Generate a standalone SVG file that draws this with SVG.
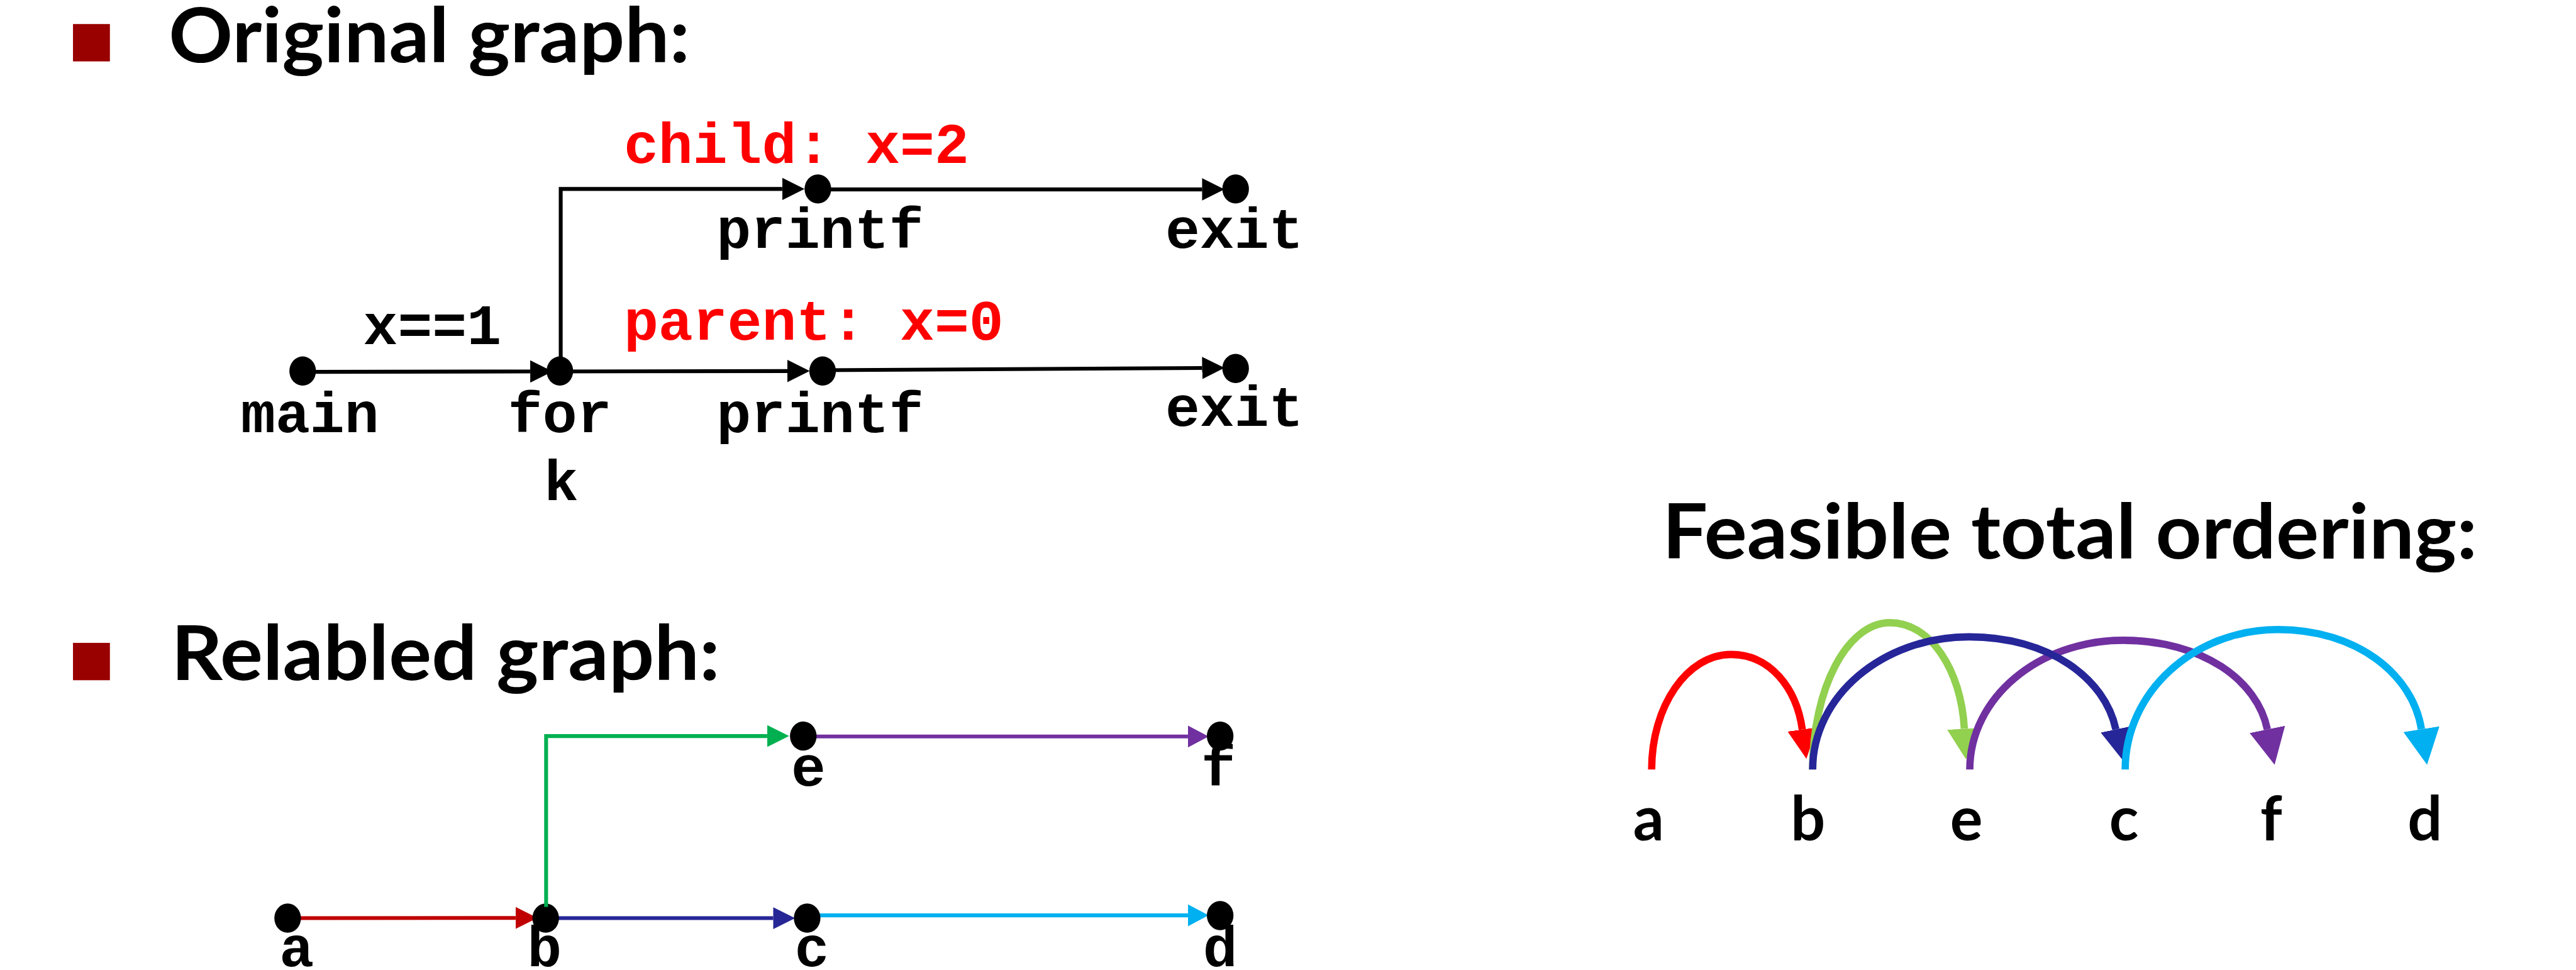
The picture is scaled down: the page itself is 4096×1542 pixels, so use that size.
<svg xmlns="http://www.w3.org/2000/svg" width="4096" height="1542" viewBox="0 0 4096 1542">
<defs>
<style>
.title{font-family:Lato,"Open Sans","Liberation Sans",sans-serif;font-weight:700;font-size:176px;fill:#000}
.mono{font-family:"Liberation Mono","DejaVu Sans Mono",monospace;font-weight:700;font-size:134px;fill:#000}
.mid{text-anchor:middle}
.hot{fill:#FF0000}
.lbl{font-family:Lato,"Open Sans","Liberation Sans",sans-serif;font-weight:700;font-size:142px;fill:#000;text-anchor:middle}
.dot{fill:#000}
.bullet{fill:#990000}
.ln{fill:none;stroke-width:9}
.arc{fill:none;stroke-width:17}
</style>
<marker id="mBlk" markerUnits="userSpaceOnUse" viewBox="0 0 52 52" markerWidth="52" markerHeight="52" refX="0" refY="26" orient="auto"><path d="M0,0L52,26L0,52z" fill="#000"/></marker>
<marker id="mRed" markerUnits="userSpaceOnUse" viewBox="0 0 51 51" markerWidth="51" markerHeight="51" refX="0" refY="25.5" orient="auto"><path d="M0,0L51,25.5L0,51z" fill="#C00000"/></marker>
<marker id="mNavy" markerUnits="userSpaceOnUse" viewBox="0 0 51 51" markerWidth="51" markerHeight="51" refX="0" refY="25.5" orient="auto"><path d="M0,0L51,25.5L0,51z" fill="#262696"/></marker>
<marker id="mGreen" markerUnits="userSpaceOnUse" viewBox="0 0 51 51" markerWidth="51" markerHeight="51" refX="0" refY="25.5" orient="auto"><path d="M0,0L51,25.5L0,51z" fill="#00B050"/></marker>
<marker id="mPurp" markerUnits="userSpaceOnUse" viewBox="0 0 48 51" markerWidth="48" markerHeight="51" refX="0" refY="25.5" orient="auto"><path d="M0,0L48,25.5L0,51z" fill="#7030A0"/></marker>
<marker id="mBlue" markerUnits="userSpaceOnUse" viewBox="0 0 48 51" markerWidth="48" markerHeight="51" refX="0" refY="25.5" orient="auto"><path d="M0,0L48,25.5L0,51z" fill="#00B0F0"/></marker>
<marker id="aRed" markerUnits="userSpaceOnUse" viewBox="0 0 69 69" markerWidth="69" markerHeight="69" refX="0" refY="34.5" orient="auto"><path d="M0,0L69,34.5L0,69z" fill="#FF0000"/></marker>
<marker id="aGreen" markerUnits="userSpaceOnUse" viewBox="0 0 71 80" markerWidth="71" markerHeight="80" refX="0" refY="40" orient="auto"><path d="M0,0L71,40L0,80z" fill="#92D050"/></marker>
<marker id="aNavy" markerUnits="userSpaceOnUse" viewBox="0 0 72 72" markerWidth="72" markerHeight="72" refX="0" refY="36" orient="auto"><path d="M0,0L72,36L0,72z" fill="#262699"/></marker>
<marker id="aPurp" markerUnits="userSpaceOnUse" viewBox="0 0 84 84" markerWidth="84" markerHeight="84" refX="0" refY="42" orient="auto"><path d="M0,0L84,42L0,84z" fill="#7030A0"/></marker>
<marker id="aBlue" markerUnits="userSpaceOnUse" viewBox="0 0 84 85" markerWidth="84" markerHeight="85" refX="0" refY="42.5" orient="auto"><path d="M0,0L84,42.5L0,85z" fill="#00B0F0"/></marker>
</defs>
<rect width="4096" height="1542" fill="#fff"/>
<g transform="scale(0.682667)">
  <!-- headings -->
  <rect class="bullet" x="170" y="56" width="86" height="87"/>
  <text class="title" x="393" y="145" textLength="1214" lengthAdjust="spacingAndGlyphs">Original graph:</text>
  <rect class="bullet" x="170" y="1497" width="86" height="87"/>
  <text class="title" x="399" y="1584" textLength="1278" lengthAdjust="spacingAndGlyphs">Relabled graph:</text>
  <text class="title" x="3872" y="1301" textLength="1898" lengthAdjust="spacingAndGlyphs">Feasible total ordering:</text>

  <!-- connectors -->
  <g id="connectors">
    <path class="ln" stroke="#000" d="M705,866L1235,865" marker-end="url(#mBlk)"/>
    <path class="ln" stroke="#000" d="M1304,865L1834,864" marker-end="url(#mBlk)"/>
    <path class="ln" stroke="#000" d="M1916,862L2800,857" marker-end="url(#mBlk)"/>
    <path class="ln" stroke="#000" d="M1306,864V440H1822" marker-end="url(#mBlk)"/>
    <path class="ln" stroke="#000" d="M1905,441L2800,441" marker-end="url(#mBlk)"/>
    <path class="ln" stroke="#C00000" d="M700,2138L1201,2137.5" marker-end="url(#mRed)"/>
    <path class="ln" stroke="#262696" d="M1300,2138L1801,2138" marker-end="url(#mNavy)"/>
    <path class="ln" stroke="#00B0F0" d="M1895,2131.5L2767,2131.5" marker-end="url(#mBlue)"/>
    <path class="ln" stroke="#7030A0" d="M1895,1715L2767,1715" marker-end="url(#mPurp)"/>
    <text class="mono hot" x="1453" y="380">child: x=2</text>
    <text class="mono hot" x="1453" y="791">parent: x=0</text>
    <text class="mono" x="846" y="801">x==1</text>
  </g>

  <!-- top graph nodes -->
  <g id="n-main"><ellipse class="dot" cx="705" cy="864" rx="31" ry="34"/><text class="mono mid" x="722" y="1007">main</text></g>
  <g id="n-fork"><ellipse class="dot" cx="1304" cy="864" rx="31" ry="34"/><text class="mono mid" x="1304" y="1007">for</text><text class="mono mid" x="1307" y="1165">k</text></g>
  <g id="n-printf-child"><ellipse class="dot" cx="1905" cy="440" rx="31" ry="34"/><text class="mono mid" x="1910" y="577">printf</text></g>
  <g id="n-exit-child"><ellipse class="dot" cx="2878" cy="440" rx="31" ry="34"/><text class="mono mid" x="2875" y="577">exit</text></g>
  <g id="n-printf-parent"><ellipse class="dot" cx="1916" cy="864" rx="31" ry="34"/><text class="mono mid" x="1910" y="1007">printf</text></g>
  <g id="n-exit-parent"><ellipse class="dot" cx="2878" cy="858" rx="31" ry="34"/><text class="mono mid" x="2875" y="992">exit</text></g>

  <!-- relabeled graph nodes -->
  <g id="n-a"><ellipse class="dot" cx="670" cy="2138" rx="31" ry="34"/><text class="mono mid" x="691" y="2250">a</text></g>
  <g id="n-b"><ellipse class="dot" cx="1271" cy="2138" rx="31" ry="34"/><text class="mono mid" x="1268" y="2250">b</text></g>
  <g id="n-c"><ellipse class="dot" cx="1880" cy="2138" rx="31" ry="34"/><text class="mono mid" x="1891" y="2250">c</text></g>
  <g id="n-d"><ellipse class="dot" cx="2842" cy="2132" rx="31" ry="34"/><text class="mono mid" x="2842" y="2250">d</text></g>
  <g id="n-e"><ellipse class="dot" cx="1871" cy="1714" rx="31" ry="34"/><text class="mono mid" x="1883" y="1830">e</text></g>
  <g id="n-f"><ellipse class="dot" cx="2842" cy="1714" rx="31" ry="34"/><text class="mono mid" x="2838" y="1830">f</text></g>
  <path class="ln" stroke="#00B050" d="M1272,2112V1714H1787" marker-end="url(#mGreen)"/>

  <!-- feasible total ordering -->
  <g id="ordering">
    <g id="o-a"><text class="lbl" x="3840" y="1957">a</text></g>
    <g id="o-b"><text class="lbl" x="4211" y="1957">b</text></g>
    <g id="o-e"><text class="lbl" x="4580" y="1957">e</text></g>
    <g id="o-c"><text class="lbl" x="4947" y="1957">c</text></g>
    <g id="o-f"><text class="lbl" x="5290" y="1957">f</text></g>
    <g id="o-d"><text class="lbl" x="5648" y="1957">d</text></g>
    <g id="arcs">
      <path class="arc" stroke="#FF0000" d="M3847,1792C3847,1644 3929.8,1524 4032,1524C4123.2,1524 4184.4,1602.6 4197.9,1698.7" marker-end="url(#aRed)"/>
      <path class="arc" stroke="#92D050" d="M4222,1792C4222,1603.1 4302.6,1450 4402,1450C4497.3,1450 4568.2,1561.2 4575.3,1697.1" marker-end="url(#aGreen)"/>
      <path class="arc" stroke="#7030A0" d="M4588,1792C4588,1625.8 4747.8,1491 4945,1491C5129.9,1491 5257.7,1584.4 5281.1,1698.5" marker-end="url(#aPurp)"/>
      <path class="arc" stroke="#262699" d="M4222,1792C4222,1621.3 4385,1483 4586,1483C4774.2,1483 4903.2,1580 4928.2,1698.5" marker-end="url(#aNavy)"/>
      <path class="arc" stroke="#00B0F0" d="M4950,1792C4950,1612 5109.4,1466 5306,1466C5489.6,1466 5619.7,1570.4 5639.9,1698" marker-end="url(#aBlue)"/>
    </g>
  </g>
</g>
</svg>
